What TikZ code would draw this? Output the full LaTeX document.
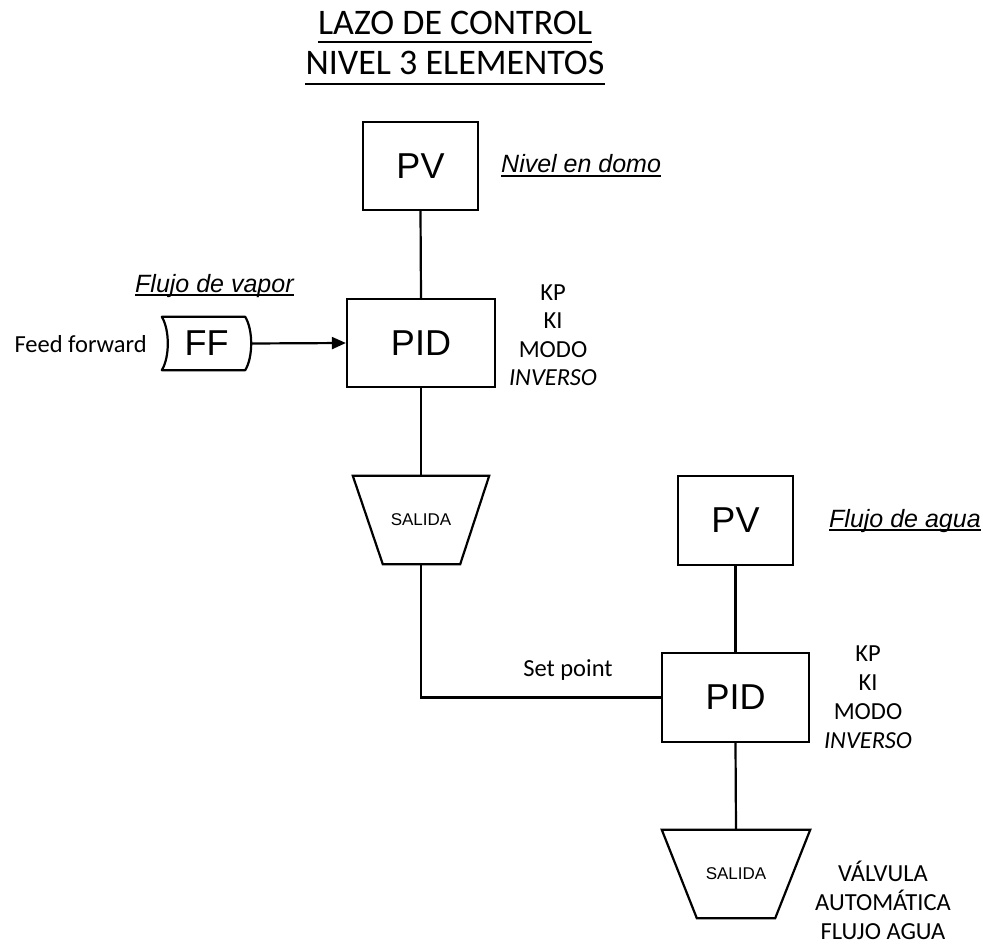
\documentclass[tikz,border=0pt]{standalone}
\usepackage{fontspec}
\setmainfont{Carlito}
\newfontfamily\arialf{Liberation Sans}
\usetikzlibrary{arrows.meta,calc}
\begin{document}
\begin{tikzpicture}[x=1pt,y=-1pt,
  box/.style={draw,line width=2.2pt,inner sep=0pt,font=\arialf\fontsize{36}{36}\selectfont},
  nobox/.style={inner sep=0pt},
  lbl/.style={inner sep=0pt,font=\fontsize{24.5}{28}\selectfont},
  ilbl/.style={inner sep=0pt,font=\arialf\itshape\fontsize{25}{28}\selectfont},
  ttl/.style={inner sep=0pt,font=\fontsize{36}{40}\selectfont},
  wire/.style={line width=2.2pt},
  ul/.style={line width=1.6pt},
  sal/.style={inner sep=0pt,font=\arialf\fontsize{17}{20}\selectfont}
]
\useasboundingbox (0,0) rectangle (983,944);

% title
\node[ttl,anchor=base] (t1) at (455,35) {LAZO DE CONTROL};
\node[ttl,anchor=base] (t2) at (455,75) {NIVEL 3 ELEMENTOS};
\draw[ul,line width=2pt] ($(t1.base west)+(0,7)$) -- ($(t1.base east)+(0,7)$);
\draw[ul,line width=2pt] ($(t2.base west)+(0,9)$) -- ($(t2.base east)+(0,9)$);

% first loop
\node[box,minimum width=115pt,minimum height=88pt] (pv1) at (420.5,166) {PV};
\node[ilbl,anchor=base west] (nd) at (501,173) {Nivel en domo};
\draw[ul] ($(nd.base west)+(0,3)$) -- ($(nd.base east)+(0,3)$);

\node[box,minimum width=148pt,minimum height=88pt] (pid1) at (421,343) {PID};
\draw[wire] (pv1.south) -- (pid1.north);

\node[nobox,minimum width=89pt,minimum height=53pt,font=\arialf\fontsize{36}{36}\selectfont] (ff) at (206.5,343.5) {FF};
\draw[wire,line join=round]
  ($(ff.north west)$) -- ($(ff.north east)+(-6,0)$)
  .. controls ($(ff.north east)+(2,13)$) and ($(ff.south east)+(2,-13)$) .. ($(ff.south east)+(-6,0)$)
  -- (ff.south west)
  .. controls ($(ff.south west)+(8,-13)$) and ($(ff.north west)+(8,13)$) .. (ff.north west) -- cycle;
\draw[wire,-{Triangle[length=14pt,width=12pt]}] (ff.east) -- (pid1.west);

\node[lbl,anchor=base east] (fdf) at (147,352) {Feed forward};
\node[ilbl,anchor=base west] (fv) at (135,292) {Flujo de vapor};
\draw[ul] ($(fv.base west)+(0,3)$) -- ($(fv.base east)+(0,3)$);

\node[lbl,anchor=base] (kp1) at (553,300) {KP};
\node[lbl,anchor=base] (ki1) at (553,328.5) {KI};
\node[lbl,anchor=base] (mo1) at (553,357) {MODO};
\node[lbl,anchor=base] (in1) at (553,385.5) {\itshape INVERSO};

\node[sal,minimum width=136pt,minimum height=88pt] (sal1) at (421,520) {SALIDA};
\draw[wire,line join=miter]
  (sal1.north west) -- (sal1.north east) -- ($(sal1.south east)+(-29,0)$)
  -- ($(sal1.south west)+(30,0)$) -- cycle;
\draw[wire] (pid1.south) -- (sal1.north);

% second loop
\node[box,minimum width=115pt,minimum height=89pt] (pv2) at (735.5,520.5) {PV};
\node[ilbl,anchor=base west] (fa) at (829,527) {Flujo de agua};
\draw[ul] ($(fa.base west)+(0,3)$) -- ($(fa.base east)+(0,3)$);

\node[box,minimum width=147pt,minimum height=89pt] (pid2) at (735.5,697.5) {PID};
\draw[wire] (pv2.south) -- (pid2.north);
\draw[wire] (sal1.south) |- (pid2.west);
\node[lbl,anchor=base] (sp) at (568,676) {Set point};

\node[lbl,anchor=base] (kp2) at (868,661) {KP};
\node[lbl,anchor=base] (ki2) at (868,690) {KI};
\node[lbl,anchor=base] (mo2) at (868,719) {MODO};
\node[lbl,anchor=base] (in2) at (868,748) {\itshape INVERSO};

\node[sal,minimum width=148pt,minimum height=88pt] (sal2) at (736,874) {SALIDA};
\draw[wire,line join=miter]
  (sal2.north west) -- (sal2.north east) -- ($(sal2.south east)+(-35,0)$)
  -- ($(sal2.south west)+(35,0)$) -- cycle;
\draw[wire] (pid2.south) -- (sal2.north);

\node[lbl,anchor=base] (v1) at (883,881) {VÁLVULA};
\node[lbl,anchor=base] (v2) at (883,910) {AUTOMÁTICA};
\node[lbl,anchor=base] (v3) at (883,939) {FLUJO AGUA};
\end{tikzpicture}
\end{document}
